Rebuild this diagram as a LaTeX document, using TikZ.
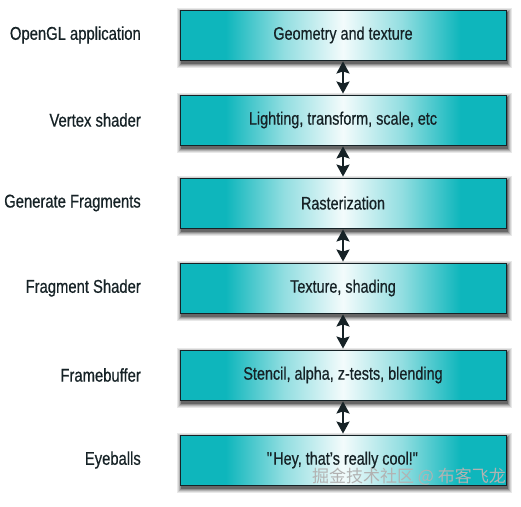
\documentclass[tikz,border=0pt]{standalone}
\usepackage{fontspec}
\setmainfont{Liberation Sans}[FakeStretch=0.8, FakeBold=0.6]
\newfontfamily\cjk{Noto Sans CJK SC}
\usetikzlibrary{arrows.meta}
\pgfdeclarelayer{background}
\pgfsetlayers{background,main}
\definecolor{tealc}{RGB}{14,182,188}
\definecolor{txt}{RGB}{22,34,38}
\pgfdeclarehorizontalshading{boxshade}{100bp}{color(0bp)=(tealc); color(25bp)=(tealc); color(32bp)=(tealc); color(41bp)=(tealc!45!white); color(50bp)=(tealc!5!white); color(59bp)=(tealc!45!white); color(68bp)=(tealc); color(75bp)=(tealc); color(100bp)=(tealc)}
\tikzset{
  stagebox/.style={draw=txt, line width=0.9pt, shading=boxshade, minimum width=326pt, minimum height=50pt, inner sep=0pt,
    text=txt, font=\fontsize{18}{20}\selectfont},
  stagelabel/.style={anchor=east, text=txt, font=\fontsize{18.5}{20}\selectfont, inner sep=0pt},
  biarrow/.style={line width=2.2pt, draw=txt, {Stealth[length=12pt,width=13pt,inset=2pt]}-{Stealth[length=12pt,width=13pt,inset=2pt]}, shorten <=1pt, shorten >=1pt}
}
\begin{document}
\begin{tikzpicture}[x=1pt,y=-1pt]
\useasboundingbox (0,0) rectangle (521,506);
\node[stagebox] (b1) at (343,35) {Geometry and texture};
\node[stagebox] (b2) at (343,120) {Lighting, transform, scale, etc};
\node[stagebox] (b3) at (343,203) {Rasterization};
\node[stagebox] (b4) at (343,288) {Texture, shading};
\node[stagebox] (b5) at (343,375) {Stencil, alpha, z-tests, blending};
\node[stagebox] (b6) at (343,460) {\textquotedbl Hey, that's really cool!\textquotedbl};
\begin{pgfonlayer}{background}
\foreach \n in {b1,b2,b3,b4,b5,b6}{
  \fill[black!9] ([xshift=-3pt,yshift=-8pt]\n.south west) rectangle ([xshift=6pt,yshift=2pt]\n.north east);
  \fill[black!18] ([xshift=-2pt,yshift=-7pt]\n.south west) rectangle ([xshift=5pt,yshift=1pt]\n.north east);
  \fill[black!30] ([xshift=-1pt,yshift=-6pt]\n.south west) rectangle ([xshift=4pt,yshift=0pt]\n.north east);
  \fill[black!44] ([xshift=0pt,yshift=-5pt]\n.south west) rectangle ([xshift=3pt,yshift=-1pt]\n.north east);
  \fill[black!60] ([xshift=1pt,yshift=-3.5pt]\n.south west) rectangle ([xshift=2pt,yshift=-2pt]\n.north east);
}
\end{pgfonlayer}
\node[stagelabel] (l1) at (141,35) {OpenGL application};
\node[stagelabel] (l2) at (141,120) {Vertex shader};
\node[stagelabel] (l3) at (141,203) {Generate Fragments};
\node[stagelabel] (l4) at (141,288) {Fragment Shader};
\node[stagelabel] (l5) at (141,375) {Framebuffer};
\node[stagelabel] (l6) at (141,460) {Eyeballs};
\draw[biarrow] (b1.south) -- (b2.north);
\draw[biarrow] (b2.south) -- (b3.north);
\draw[biarrow] (b3.south) -- (b4.north);
\draw[biarrow] (b4.south) -- (b5.north);
\draw[biarrow] (b5.south) -- (b6.north);
\node[anchor=east, inner sep=0pt, text=gray!60, font=\cjk\fontsize{17}{19}\selectfont] (wm) at (506,477) {掘金技术社区 @ 布客飞龙};
\end{tikzpicture}
\end{document}
